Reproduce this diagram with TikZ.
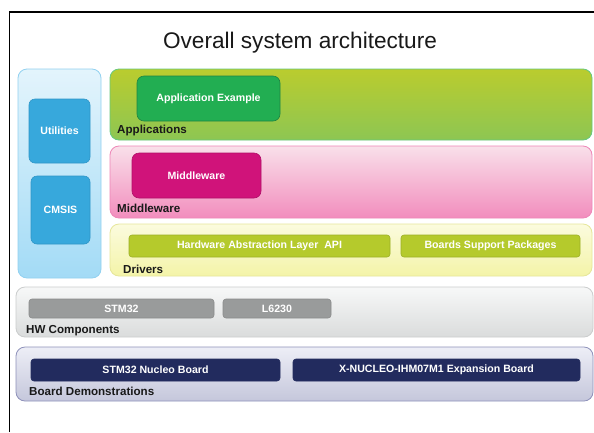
\documentclass[tikz,border=0pt]{standalone}
\usepackage{fontspec}
\setmainfont{Liberation Sans}
\begin{document}
\begin{tikzpicture}[x=1pt,y=-1pt,
  layer/.style={draw, line width=0.8pt, rounded corners=9pt, inner sep=0pt},
  inbox/.style={draw, line width=0.6pt, inner sep=0pt, text=white, font=\fontsize{10.6}{12}\bfseries\selectfont},
  lbl/.style={anchor=base west, inner sep=0pt, text=black!90, font=\fontsize{11.6}{13}\bfseries\selectfont}]
\useasboundingbox (0,0) rectangle (594,432);
\fill[white] (0,0) rectangle (594,432);
\draw[line width=1.5pt] (9.5,432) -- (9.5,12) -- (594,12);
\node[anchor=base, inner sep=0pt, font=\fontsize{22.6}{26}\selectfont, text=black!90] (title) at (300,48) {Overall system architecture};
% side panel
\definecolor{sidetop}{HTML}{E3F4FC}\definecolor{sidebot}{HTML}{A3DBF6}\definecolor{sidebd}{HTML}{92D1F0}
\definecolor{sbox}{HTML}{37A8DC}\definecolor{sboxbd}{HTML}{2F96C8}
\node[layer, draw=sidebd, top color=sidetop, bottom color=sidebot, minimum width=83pt, minimum height=209pt] (side) at (59.5,173.5) {};
\node[inbox, fill=sbox, draw=sboxbd, rounded corners=6pt, minimum width=61pt, minimum height=64pt] (util) at (59.5,131) {Utilities};
\node[inbox, fill=sbox, draw=sboxbd, rounded corners=6pt, minimum width=59pt, minimum height=68pt] (cmsis) at (60.5,210) {CMSIS};
% applications
\definecolor{apptop}{HTML}{BACC2E}\definecolor{appbot}{HTML}{8DC653}\definecolor{appbd}{HTML}{66C97E}
\node[layer, draw=appbd, top color=apptop, bottom color=appbot, minimum width=482pt, minimum height=71pt] (apps) at (351,104.5) {};
\definecolor{appex}{HTML}{22AE52}\definecolor{appexbd}{HTML}{1F8442}
\node[inbox, fill=appex, draw=appexbd, rounded corners=7pt, minimum width=143pt, minimum height=45pt] (appex) at (208.5,98.5) {Application Example};
\node[lbl] (appslbl) at (117,133) {Applications};
% middleware
\definecolor{midtop}{HTML}{F9E0EA}\definecolor{midbot}{HTML}{F28DBD}\definecolor{midbd}{HTML}{EE86B7}
\node[layer, draw=midbd, top color=midtop, bottom color=midbot, minimum width=482pt, minimum height=72pt] (mid) at (351,182) {};
\definecolor{midbox}{HTML}{D0137A}
\node[inbox, fill=midbox, draw=midbox!85!black, rounded corners=7pt, minimum width=129pt, minimum height=45pt] (midbox) at (196.5,175.5) {Middleware};
\node[lbl] (midlbl) at (117,212) {Middleware};
% drivers
\definecolor{drvtop}{HTML}{FBFBDE}\definecolor{drvbot}{HTML}{F4F4A8}\definecolor{drvbd}{HTML}{E6E69A}
\node[layer, draw=drvbd, top color=drvtop, bottom color=drvbot, minimum width=482pt, minimum height=52pt] (drv) at (351,250) {};
\definecolor{hal}{HTML}{B5CA2C}\definecolor{halbd}{HTML}{9CB027}
\node[inbox, fill=hal, draw=halbd, rounded corners=3pt, minimum width=261pt, minimum height=22pt] (hal) at (259.5,246) {Hardware Abstraction Layer\ \ API};
\node[inbox, fill=hal, draw=halbd, rounded corners=3pt, minimum width=179pt, minimum height=22pt] (bsp) at (490.5,246) {Boards Support Packages};
\node[lbl] (drvlbl) at (123,273) {Drivers};
% HW components
\definecolor{hwtop}{HTML}{F7F8F8}\definecolor{hwbot}{HTML}{DADCDC}\definecolor{hwbd}{HTML}{CBCDCD}
\node[layer, draw=hwbd, top color=hwtop, bottom color=hwbot, minimum width=577pt, minimum height=50pt] (hw) at (304.5,312) {};
\definecolor{hwbox}{HTML}{999B9B}
\node[inbox, fill=hwbox, draw=hwbox!90!black, rounded corners=3pt, minimum width=185pt, minimum height=19pt] (stm) at (121.5,308.5) {STM32};
\node[inbox, fill=hwbox, draw=hwbox!90!black, rounded corners=3pt, minimum width=108pt, minimum height=19pt] (l6230) at (277,308.5) {L6230};
\node[lbl] (hwlbl) at (26,333) {HW Components};
% board demonstrations
\definecolor{bdtop}{HTML}{EDEEF6}\definecolor{bdbot}{HTML}{C5C7DB}\definecolor{bdbd}{HTML}{8E91BA}
\node[layer, draw=bdbd, top color=bdtop, bottom color=bdbot, minimum width=577pt, minimum height=54pt] (bd) at (304.5,374) {};
\definecolor{nuc}{HTML}{222B5E}
\node[inbox, fill=nuc, draw=nuc, rounded corners=3pt, minimum width=249pt, minimum height=22pt] (nucleo) at (155.5,370) {STM32 Nucleo Board};
\node[inbox, fill=nuc, draw=nuc, rounded corners=3pt, minimum width=287pt, minimum height=22pt] (xnuc) at (436.5,370) {X-NUCLEO-IHM07M1 Expansion Board};
\node[lbl] (bdlbl) at (29,395) {Board Demonstrations};
\end{tikzpicture}
\end{document}
